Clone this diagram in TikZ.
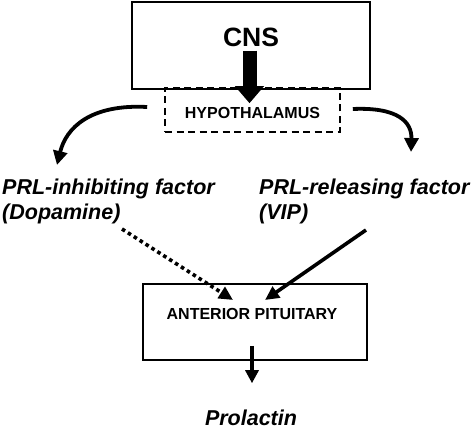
\documentclass[tikz,border=0pt]{standalone}
\usepackage{fontspec}
\setmainfont{Liberation Sans}
\usetikzlibrary{arrows.meta,calc}
\begin{document}
\begin{tikzpicture}[x=1pt,y=-1pt,
  box/.style={draw, line width=2pt, inner sep=0pt},
  factor/.style={font=\fontsize{21.5}{25}\selectfont\bfseries\itshape, align=left, inner sep=0pt},
  curvearrow/.style={line width=3.8pt, -{Triangle[width=14pt,length=14pt]}},
  straightarrow/.style={line width=3.2pt, -{Triangle[width=13pt,length=13pt]}}
]
\useasboundingbox (0,0) rectangle (474,430);
\fill[white] (0,0) rectangle (474,430);

% CNS box
\node[box, line width=2.2pt, minimum width=238pt, minimum height=87pt,
      font=\fontsize{26.5}{30}\selectfont\bfseries, text height=19pt, text depth=17pt]
  (cns) at (251,45.5) {CNS};

% Hypothalamus dashed box
\node[draw, line width=1.6pt, dash pattern=on 7pt off 4.5pt, inner sep=0pt,
      minimum width=175pt, minimum height=44pt,
      font=\fontsize{16}{19}\selectfont\bfseries, text height=17.5pt, text depth=0pt]
  (hypo) at (252.5,110) {HYPOTHALAMUS};

% thick arrow CNS -> hypothalamus
\coordinate (thickstart) at ($(cns.south)+(-1.5,-39.5)$);
\coordinate (thickend) at ($(hypo.north)+(-3,16)$);
\draw[line width=14pt, -{Triangle[width=28pt,length=17pt]}] (thickstart) -- (thickend);

% factors
\node[factor, anchor=north west] (inhib) at (2,179) {PRL-inhibiting factor\\(Dopamine)};
\node[factor, anchor=north west] (releas) at (259,179) {PRL-releasing factor\\(VIP)};

% curved arrows from hypothalamus
\coordinate (lstart) at ($(hypo.west)+(-17,-3)$);
\coordinate (ltip) at (57,165);
\draw[curvearrow] (lstart) .. controls (90,104) and (66,128) .. (ltip);
\coordinate (rstart) at ($(hypo.east)+(12,-1)$);
\coordinate (rtip) at (411,152);
\draw[curvearrow] (rstart) .. controls (398,107) and (412,122) .. (rtip);

% anterior pituitary
\node[box, minimum width=224pt, minimum height=76pt,
      font=\fontsize{16}{19}\selectfont\bfseries, text height=11.5pt, text depth=16pt]
  (pit) at (255,322) {\hspace*{-6pt}ANTERIOR PITUITARY};

% dotted inhibiting arrow
\coordinate (dstart) at (122,229);
\coordinate (dtip) at ($(pit.center)+(-22,-22)$);
\draw[line width=3.6pt, dash pattern=on 3.6pt off 3.4pt,
      -{Triangle[width=13pt,length=14pt]}] (dstart) -- (dtip);

% VIP arrow
\coordinate (vstart) at (366,230);
\coordinate (vtip) at ($(pit.center)+(10,-22)$);
\draw[line width=3.6pt, -{Triangle[width=13pt,length=14pt]}] (vstart) -- (vtip);

% Prolactin
\node[font=\fontsize{21.5}{25}\selectfont\bfseries\itshape, inner sep=0pt, anchor=base]
  (prl) at (251,425) {Prolactin};
\coordinate (pstart) at ($(pit.south)+(-3,-15)$);
\coordinate (pend) at ($(prl.north)+(1,-26)$);
\draw[straightarrow] (pstart) -- (pend);
\end{tikzpicture}
\end{document}
